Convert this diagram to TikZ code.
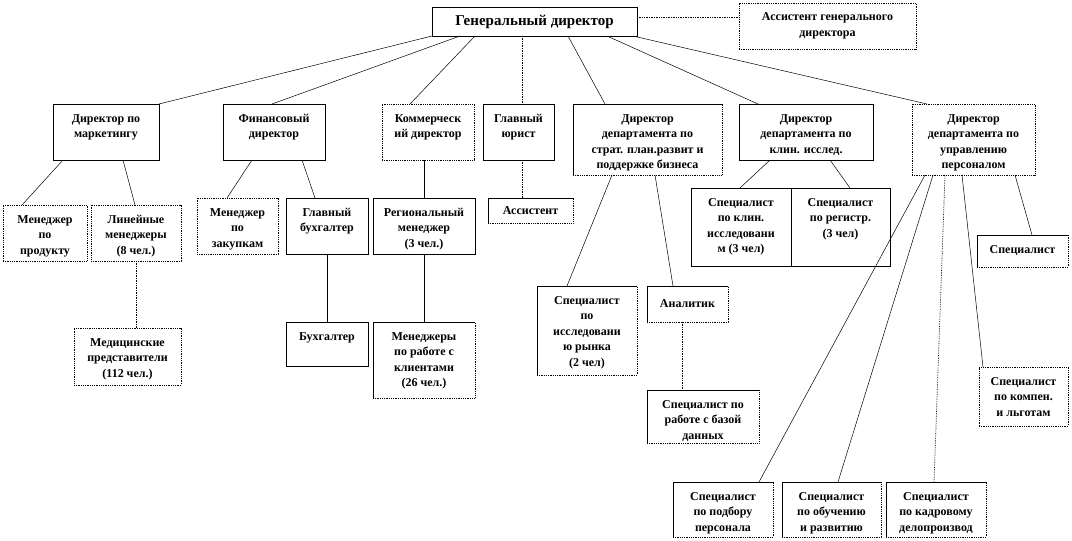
\documentclass[tikz,border=0pt]{standalone}
\usepackage{fontspec}
\setmainfont{Liberation Serif}
\tikzset{
  box/.style={draw=black, line width=0.7pt, rectangle, inner sep=0pt, outer sep=0pt},
  dbox/.style={draw=black, line width=0.8pt, densely dotted, rectangle, inner sep=0pt, outer sep=0pt},
  mbox/.style={draw=none, rectangle, inner sep=0pt, outer sep=0pt},
  txt/.style={font=\fontsize{12}{15.5}\selectfont\bfseries, align=center, inner sep=0pt},
  conn/.style={draw=black, line width=0.5pt},
  dconn/.style={draw=black, line width=0.7pt, densely dotted},
}
% box with text at the top
\newcommand\obox[7][box]{%
  \node[#1, minimum width={(#5-#3)*1pt}, minimum height={(#6-#4)*1pt}] (#2) at ({(#3+#5)/2},{(#4+#6)/2}) {};
  \node[txt, anchor=north] (#2-t) at ([yshift=-10pt]#2.north) {#7};
}
% box with centred text
\newcommand\cbox[7][box]{%
  \node[#1, txt, minimum width={(#5-#3)*1pt}, minimum height={(#6-#4)*1pt}] (#2) at ({(#3+#5)/2},{(#4+#6)/2}) {#7};
}
% solid top/left, dotted bottom/right
\newcommand\mixb[1]{%
  \draw[line width=0.7pt] (#1.south west) |- (#1.north east);
  \draw[line width=0.8pt, densely dotted] (#1.south west) -| (#1.north east);
}
\begin{document}
\begin{tikzpicture}[x=1pt,y=-1pt]
\useasboundingbox (0,0) rectangle (1072,541);

% top
\node[box, font=\fontsize{15}{18}\selectfont\bfseries, minimum width=205pt, minimum height=29pt] (gd) at (534.5,21.5) {Генеральный директор};
\cbox[dbox]{agd}{739}{3}{916}{49}{Ассистент генерального\\директора}

% level 2
\obox{mkt}{53}{104}{159}{160}{Директор по\\маркетингу}
\obox{fin}{223}{104}{325}{160}{Финансовый\\директор}
\obox[dbox]{com}{382}{104}{474}{160}{Коммерческ\\ий директор}
\obox{law}{483}{104}{554}{160}{Главный\\юрист}
\obox[mbox]{str}{573}{104}{722}{175}{Директор\\департамента по\\страт. план.развит и\\поддержке бизнеса}
\mixb{str}
\obox{kln}{739}{104}{873}{160}{Директор\\департамента по\\клин. исслед.}
\obox[dbox]{hr}{912}{104}{1035}{175}{Директор\\департамента по\\управлению\\персоналом}

% level 3 left
\obox[dbox]{prod}{3}{205}{87}{261}{Менеджер\\по\\продукту}
\obox[dbox]{lin}{91}{205}{181}{261}{Линейные\\менеджеры\\(8 чел.)}
\obox[dbox]{med}{74}{328}{181}{385}{Медицинские\\представители\\(112 чел.)}
\obox[dbox]{zak}{197}{198}{278}{254}{Менеджер\\по\\закупкам}
\obox{gb}{286}{198}{368}{254}{Главный\\бухгалтер}
\obox{reg}{373}{198}{475}{254}{Региональный\\менеджер\\(3 чел.)}
\cbox[mbox]{ast}{488}{198}{573}{223}{Ассистент}
\mixb{ast}
\obox{buh}{286}{322}{368}{366}{Бухгалтер}
\obox[mbox]{cli}{373}{322}{475}{398}{Менеджеры\\по работе с\\клиентами\\(26 чел.)}
\mixb{cli}

% level 3 right
\obox{kl1}{691}{188}{791}{266}{Специалист\\по клин.\\исследовани\\м (3 чел)}
\obox{kl2}{791}{188}{890}{266}{Специалист\\по регистр.\\(3 чел)}
\obox[mbox]{mr}{537}{286}{637}{375}{Специалист\\по\\исследовани\\ю рынка\\(2 чел)}
\mixb{mr}
\cbox[mbox]{an}{647}{286}{728}{322}{Аналитик}
\mixb{an}
\obox[mbox]{db}{647}{390}{759}{443}{Специалист по\\работе с базой\\данных}
\mixb{db}
\cbox[mbox]{sp}{977}{235}{1068}{267}{Специалист}
\mixb{sp}
\obox[dbox]{kmp}{979}{367}{1068}{426}{Специалист\\по компен.\\и льготам}
\obox[mbox]{pod}{673}{482}{773}{537}{Специалист\\по подбору\\персонала}
\mixb{pod}
\obox[mbox]{obu}{782}{482}{881}{537}{Специалист\\по обучению\\и развитию}
\mixb{obu}
\obox[mbox]{kad}{886}{482}{986}{537}{Специалист\\по кадровому\\делопроизвод}
\mixb{kad}

% helper coordinates for straight drops
\coordinate (gdA) at ([yshift=4.5pt]gd.east);
\coordinate (gdL) at ([xshift=90pt]gd.south west);
\coordinate (lawS) at ([xshift=3.5pt]law.south);
\coordinate (linS) at ([xshift=45pt]lin.south west);
\coordinate (comS) at (reg.north |- com.south);
\coordinate (anS) at ([xshift=35pt]an.south west);

% connectors
\draw[dconn] (gdA) -- (gdA -| agd.west);
\draw[conn] (gd.south west) -- (mkt.north east);
\draw[conn] ([xshift=28pt]gd.south west) -- ([xshift=49pt]fin.north west);
\draw[conn] ([xshift=43pt]gd.south west) -- ([xshift=28pt]com.north west);
\draw[dconn] (gdL) -- (gdL |- law.north);
\draw[dconn] (lawS) -- (lawS |- ast.north);
\draw[conn] ([xshift=136pt]gd.south west) -- ([xshift=32pt]str.north west);
\draw[conn] ([xshift=175pt]gd.south west) -- ([xshift=19pt]kln.north west);
\draw[conn] ([xshift=-4pt]gd.south east) -- ([xshift=15pt]hr.north west);

\draw[conn] ([xshift=10pt]mkt.south west) -- ([xshift=19pt]prod.north west);
\draw[conn] ([xshift=70pt]mkt.south west) -- ([xshift=44pt]lin.north west);
\draw[dconn] (linS) -- (linS |- med.north);
\draw[conn] ([xshift=29pt]fin.south west) -- ([xshift=30pt]zak.north west);
\draw[conn] ([xshift=79pt]fin.south west) -- ([xshift=29pt]gb.north west);
\draw[conn] (comS) -- (reg.north);
\draw[conn] (gb.south) -- (buh.north);
\draw[conn] (reg.south) -- (cli.north);

\draw[conn] ([xshift=39pt]str.south west) -- ([xshift=30pt]mr.north west);
\draw[conn] ([xshift=82pt]str.south west) -- ([xshift=26pt]an.north west);
\draw[dconn] (anS) -- (anS |- db.north);
\draw[conn] ([xshift=31pt]kln.south west) -- ([xshift=49pt]kl1.north west);
\draw[conn] ([xshift=91pt]kln.south west) -- ([xshift=59pt]kl2.north west);

\draw[conn] ([xshift=13pt]hr.south west) -- ([xshift=86pt]pod.north west);
\draw[conn] ([xshift=21pt]hr.south west) -- ([xshift=56pt]obu.north west);
\draw[dconn] ([xshift=33pt]hr.south west) -- ([xshift=48pt]kad.north west);
\draw[conn] ([xshift=50pt]hr.south west) -- ([xshift=4pt]kmp.north west);
\draw[conn] ([xshift=103pt]hr.south west) -- ([xshift=55pt]sp.north west);
\end{tikzpicture}
\end{document}
